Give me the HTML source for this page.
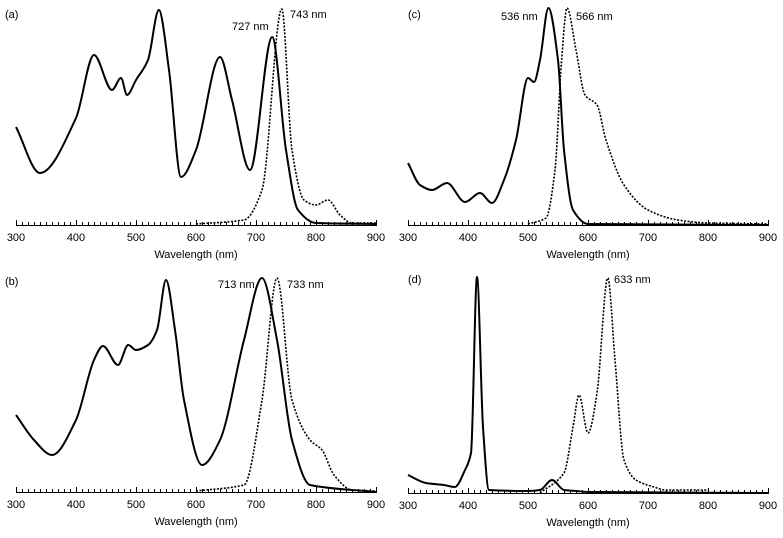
<!DOCTYPE html>
<html><head><meta charset="utf-8"><style>
body{margin:0;background:#fff;width:783px;height:533px;overflow:hidden}
svg{font-family:"Liberation Sans",Arial,sans-serif;font-size:11px}
</style></head><body>
<svg id="c" width="783" height="533"></svg>
<script>
// Panel data: wavelength (nm) and plotted level
const aAbsX=[300,340,400,430,460,475,485,500,520,538,555,575,600,640,660,690,727,750,770,800,900];
const aAbsY=[127,173,118,55,90,78,95,80,60,10,70,177,150,57,100,170,37,150,210,223,224];
const aEmX=[600,680,710,743,760,780,800,820,840,860,900];
const aEmY=[224,220,190,9,150,200,205,200,215,223,223];
const bAbsX=[300,330,360,400,430,445,470,487,500,520,535,550,565,580,610,640,680,710,735,760,790,900];
const bAbsY=[415,440,455,420,360,346,365,345,350,345,330,280,330,400,465,440,340,278,340,440,485,492];
const bEmX=[600,680,710,735,760,790,810,830,860,900];
const bEmY=[491,485,400,278,400,440,450,475,490,491];
const cAbsX=[300,320,340,365,395,420,440,460,480,500,510,520,534,550,560,575,600,900];
const cAbsY=[163,185,190,183,202,193,203,180,140,78,82,60,8,60,150,210,224,225];
const cEmX=[500,530,545,556,565,580,595,615,630,660,700,750,800,900];
const cEmY=[224,218,170,60,8,50,95,105,140,185,210,220,223,224];
const dAbsX=[300,330,360,378,395,405,415,425,435,500,520,540,560,580,600,900];
const dAbsY=[475,483,485,487,470,453,277,427,490,491,490,480,490,491,492,493];
const dEmX=[520,560,575,585,600,615,633,645,660,680,710,730,800];
const dEmY=[493,473,427,395,433,393,278,360,460,480,487,490,490];
const tickLabels=[300,400,500,600,700,800,900];

const svg=document.getElementById('c');
const NS='http://www.w3.org/2000/svg';
function mk(t,a){const e=document.createElementNS(NS,t);for(const k in a)e.setAttribute(k,a[k]);svg.appendChild(e);return e;}
function txt(x,y,s,anchor){const e=mk('text',{x:x,y:y,'text-anchor':anchor||'start',fill:'#000'});e.textContent=s;return e;}
function path(p){const n=p.length,d=[],m=[];
 for(let i=0;i<n-1;i++)d.push((p[i+1][1]-p[i][1])/(p[i+1][0]-p[i][0]));
 for(let i=0;i<n;i++){if(i===0)m.push(d[0]);else if(i===n-1)m.push(d[n-2]);
  else m.push(d[i-1]*d[i]<=0?0:2/(1/d[i-1]+1/d[i]));}
 let s='M'+p[0][0].toFixed(1)+','+p[0][1].toFixed(1);
 for(let i=0;i<n-1;i++){const h=(p[i+1][0]-p[i][0])/3;
  s+=' C'+(p[i][0]+h).toFixed(1)+','+(p[i][1]+m[i]*h).toFixed(1)+' '+(p[i+1][0]-h).toFixed(1)+','+(p[i+1][1]-m[i+1]*h).toFixed(1)+' '+p[i+1][0].toFixed(1)+','+p[i+1][1].toFixed(1);}
 return s;}
function panel(id,x0,x1,ay,absX,absY,emX,emY,lbl,lx,ly){
 const sx=w=>x0+(w-300)/600*(x1-x0);
 const ep=mk('path',{d:path(emX.map((w,i)=>[sx(w),emY[i]])),fill:'none',stroke:'#000','stroke-width':1.6,'stroke-dasharray':'2,1.5'});
 
 const ap=mk('path',{d:path(absX.map((w,i)=>[sx(w),absY[i]])),fill:'none',stroke:'#000','stroke-width':2});
 
 const ax=mk('line',{x1:x0,y1:ay+0.5,x2:x1,y2:ay+0.5,stroke:'#000','stroke-width':1});
 
 for(let w=300;w<=900;w+=10){const xx=Math.round(sx(w))+0.5;
  const t=mk('line',{x1:xx,y1:ay+1,x2:xx,y2:ay-(w%100===0?5:3),stroke:'#000','stroke-width':1});
  }
 tickLabels.forEach(v=>{const t=txt(sx(v),ay+16,String(v),'middle');});
 const tt=txt((x0+x1)/2,ay+33,'Wavelength (nm)','middle');
 
 const pl=txt(lx,ly,lbl);
}
panel('panel-a',16,376,225,aAbsX,aAbsY,aEmX,aEmY,'(a)',5,18);
panel('panel-b',16,376,492,bAbsX,bAbsY,bEmX,bEmY,'(b)',5,285);
panel('panel-c',408,768,225,cAbsX,cAbsY,cEmX,cEmY,'(c)',408,18);
panel('panel-d',408,768,493,dAbsX,dAbsY,dEmX,dEmY,'(d)',408,283);
[['727 nm',232,30],['743 nm',290,18],['713 nm',218,288],['733 nm',287,288],['536 nm',501,20],['566 nm',576,20],['633 nm',614,283]].forEach(a=>{
 const t=txt(a[1],a[2],a[0]);});
</script>
</body></html>
